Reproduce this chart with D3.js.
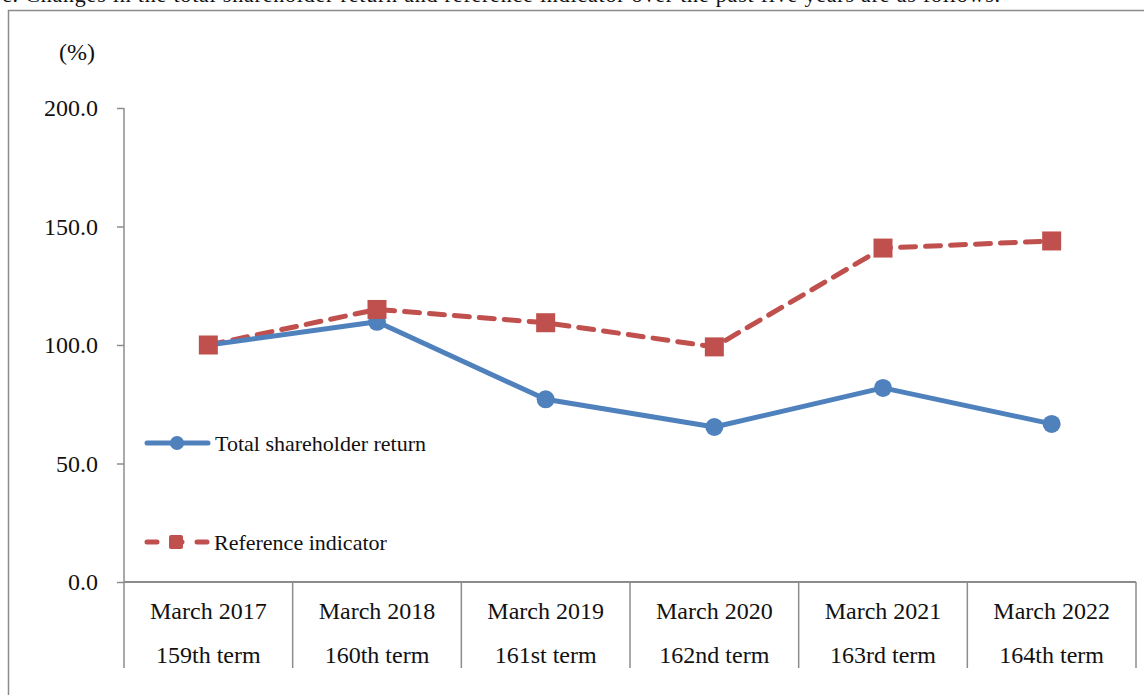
<!DOCTYPE html>
<html>
<head>
<meta charset="utf-8">
<script src="https://cdn.jsdelivr.net/npm/d3@7"></script>
<style>
  body { margin: 0; background: #fff; }
  svg { display: block; }
  text { font-family: "Liberation Serif", "Times New Roman", serif; fill: #111; }
</style>
</head>
<body>
<script>
const width = 1144;
const height = 695;

const terms = ["March 2017", "March 2018", "March 2019", "March 2020", "March 2021", "March 2022"];
const termNames = ["159th term", "160th term", "161st term", "162nd term", "163rd term", "164th term"];
const tsr = [100.0, 109.8, 77.1, 65.4, 81.9, 66.7];
const refIndicator = [100.0, 115.0, 109.4, 99.2, 140.9, 143.9];
const yTicks = [0, 50, 100, 150, 200];

const margin = { top: 108, right: 8, bottom: 113, left: 124 };
const tableBottom = 668;

const svg = d3.select('body').append('svg')
  .attr('width', width)
  .attr('height', height);

// caption, cut off at the top of the page like in the source
svg.append('text')
  .attr('x', 2)
  .attr('y', 2)
  .attr('font-size', '22px')
  .attr('textLength', 998)
  .text('c. Changes in the total shareholder return and reference indicator over the past five years are as follows.');

// outer frame
svg.append('rect')
  .attr('x', 8.5)
  .attr('y', 10.5)
  .attr('width', 1200)
  .attr('height', 800)
  .attr('fill', 'none')
  .attr('stroke', '#8c8c8c')
  .attr('stroke-width', 1.5);

const x = d3.scaleBand()
  .domain(terms)
  .range([margin.left, width - margin.right])
  .padding(0);

const y = d3.scaleLinear()
  .domain([0, 200])
  .range([height - margin.bottom, margin.top]);

const cx = d => x(d) + x.bandwidth() / 2;

// y axis
const yAxis = svg.append('g')
  .attr('transform', `translate(${margin.left}, 0)`)
  .call(d3.axisLeft(y)
    .tickValues(yTicks)
    .tickSize(7)
    .tickPadding(19)
    .tickFormat(d3.format('.1f')));
yAxis.select('.domain').remove();
yAxis.selectAll('line').attr('stroke', '#8c8c8c').attr('stroke-width', 1.5);
yAxis.selectAll('text')
  .attr('font-size', '24px')
  .attr('font-family', '"Liberation Serif", serif')
  .attr('fill', '#111');

svg.append('line')
  .attr('x1', margin.left).attr('x2', margin.left)
  .attr('y1', y(200)).attr('y2', tableBottom)
  .attr('stroke', '#8c8c8c').attr('stroke-width', 1.5);

svg.append('text')
  .attr('x', 77)
  .attr('y', 60)
  .attr('text-anchor', 'middle')
  .attr('font-size', '24px')
  .text('(%)');

// category table under the zero line
svg.append('line')
  .attr('x1', margin.left).attr('x2', width - margin.right)
  .attr('y1', y(0)).attr('y2', y(0))
  .attr('stroke', '#8c8c8c').attr('stroke-width', 2);

svg.selectAll('.sep')
  .data(terms)
  .join('line')
    .attr('class', 'sep')
    .attr('x1', d => x(d) + x.bandwidth())
    .attr('x2', d => x(d) + x.bandwidth())
    .attr('y1', y(0))
    .attr('y2', tableBottom)
    .attr('stroke', '#8c8c8c')
    .attr('stroke-width', 1.5);

svg.selectAll('.term')
  .data(terms)
  .join('text')
    .attr('class', 'term')
    .attr('x', d => cx(d))
    .attr('y', 619)
    .attr('text-anchor', 'middle')
    .attr('font-size', '24px')
    .text(d => d);

svg.selectAll('.termname')
  .data(terms)
  .join('text')
    .attr('class', 'termname')
    .attr('x', d => cx(d))
    .attr('y', 663)
    .attr('text-anchor', 'middle')
    .attr('font-size', '24px')
    .text((d, i) => termNames[i]);

const blue = '#4f81bd';
const red = '#c0504d';

const line = d3.line()
  .x((d, i) => cx(terms[i]))
  .y(d => y(d));

// reference indicator (dashed, squares)
svg.append('path')
  .datum(refIndicator)
  .attr('fill', 'none')
  .attr('stroke', red)
  .attr('stroke-width', 5)
  .attr('stroke-dasharray', '15 10')
  .attr('stroke-linecap', 'round')
  .attr('d', line);

// total shareholder return (solid, circles)
svg.append('path')
  .datum(tsr)
  .attr('fill', 'none')
  .attr('stroke', blue)
  .attr('stroke-width', 5)
  .attr('stroke-linejoin', 'round')
  .attr('d', line);

svg.selectAll('.dot')
  .data(tsr)
  .join('circle')
    .attr('class', 'dot')
    .attr('cx', (d, i) => cx(terms[i]))
    .attr('cy', d => y(d))
    .attr('r', 9)
    .attr('fill', blue);

svg.selectAll('.sq')
  .data(refIndicator)
  .join('rect')
    .attr('class', 'sq')
    .attr('x', (d, i) => cx(terms[i]) - 9.5)
    .attr('y', d => y(d) - 9.5)
    .attr('width', 19)
    .attr('height', 19)
    .attr('fill', red);

// legend
const legend = svg.append('g');
const tsrItem = legend.append('g').attr('transform', 'translate(0, 443)');
tsrItem.append('line')
  .attr('x1', 147).attr('x2', 208)
  .attr('stroke', blue).attr('stroke-width', 5).attr('stroke-linecap', 'round');
tsrItem.append('circle').attr('cx', 177).attr('r', 7).attr('fill', blue);
tsrItem.append('text')
  .attr('x', 215).attr('dy', '0.35em')
  .attr('font-size', '22px')
  .text('Total shareholder return');

const refItem = legend.append('g').attr('transform', 'translate(0, 542)');
refItem.append('line')
  .attr('x1', 147).attr('x2', 207)
  .attr('stroke', red).attr('stroke-width', 5).attr('stroke-linecap', 'round')
  .attr('stroke-dasharray', '10 15');
refItem.append('rect')
  .attr('x', 169).attr('y', -7).attr('width', 14).attr('height', 14)
  .attr('rx', 2)
  .attr('fill', red);
refItem.append('text')
  .attr('x', 214).attr('dy', '0.35em')
  .attr('font-size', '22px')
  .text('Reference indicator');
</script>
</body>
</html>
